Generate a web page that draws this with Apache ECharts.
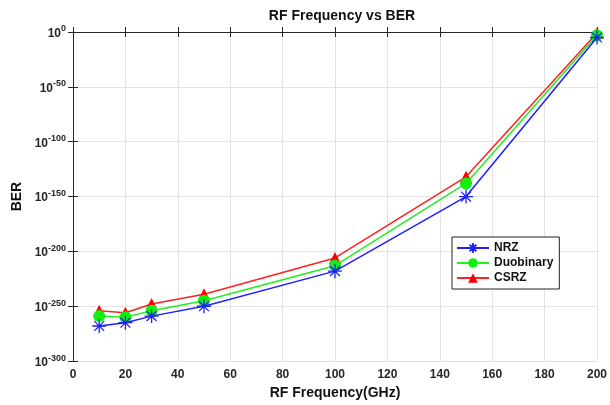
<!DOCTYPE html>
<html><head><meta charset="utf-8">
<script src="https://cdn.jsdelivr.net/npm/echarts@6/dist/echarts.min.js"></script>
<style>html,body{margin:0;padding:0;background:#fff}#c{width:610px;height:405px}</style>
</head><body><div id="c"></div>
<script>
// Data: RF frequency (GHz) and BER exponents (BER = 10^value)
const freq = [10, 20, 30, 50, 100, 150, 200];
const nrz = [-268, -265, -259, -250, -218, -150, -5];
const duobinary = [-259, -260, -254, -245, -213, -138, -3];
const csrz = [-254, -256, -248, -239, -206, -132, -1];
const yTicks = [0, -50, -100, -150, -200, -250, -300];

const pair = a => freq.map((f, i) => [f, a[i]]);
const font = 'Liberation Sans, Arial, sans-serif';
const asterisk = 'path://M0,5L10,5M5,0L5,10M1.5,1.5L8.5,8.5M8.5,1.5L1.5,8.5';

const chart = echarts.init(document.getElementById('c'));
const axisLine = {show: true, lineStyle: {color: '#262626', width: 1}};
chart.setOption({
  animation: false,
  title: {text: 'RF Frequency vs BER', left: 337, textAlign: 'center', top: 4,
    textStyle: {fontFamily: font, fontSize: 14, fontWeight: 'bold', color: '#111'}},
  grid: {left: 73, right: 10, top: 32, bottom: 43},
  legend: {
    orient: 'vertical', left: 452, top: 237, itemWidth: 32, itemHeight: 12, itemGap: 3,
    padding: [5, 6, 5, 4],
    borderColor: '#222', borderWidth: 1, backgroundColor: '#fff',
    textStyle: {fontFamily: font, fontSize: 12, fontWeight: 'bold', color: '#111'},
    data: ['NRZ', 'Duobinary', 'CSRZ']
  },
  xAxis: [{
    type: 'value', min: 0, max: 200, interval: 20, position: 'bottom',
    name: 'RF Frequency(GHz)', nameLocation: 'middle', nameGap: 24,
    nameTextStyle: {fontFamily: font, fontSize: 14, fontWeight: 'bold', color: '#111'},
    axisLine, axisTick: {show: true, inside: true, length: 5, lineStyle: {color: '#262626'}},
    axisLabel: {fontFamily: font, fontSize: 12, fontWeight: 'bold', color: '#262626', margin: 8},
    splitLine: {show: true, lineStyle: {color: '#e3e3e3'}}
  }, {
    type: 'value', min: 0, max: 200, interval: 20, position: 'top',
    axisLine, axisTick: {show: true, inside: true, length: 5, lineStyle: {color: '#262626'}},
    axisLabel: {show: false}, splitLine: {show: false}
  }],
  yAxis: [{
    type: 'value', min: -300, max: 0, interval: 50, position: 'left',
    name: 'BER', nameLocation: 'middle', nameGap: 46, nameRotate: 90,
    nameTextStyle: {fontFamily: font, fontSize: 14, fontWeight: 'bold', color: '#111'},
    axisLine, axisTick: {show: true, inside: true, length: 5, lineStyle: {color: '#262626'}},
    axisLabel: {
      margin: 7,
      formatter: v => '{b|10}{s|' + v + '}',
      rich: {
        b: {fontFamily: font, fontSize: 12, fontWeight: 'bold', color: '#262626', verticalAlign: 'bottom'},
        s: {fontFamily: font, fontSize: 9, fontWeight: 'bold', color: '#262626', verticalAlign: 'top', padding: [0, 0, 6, 0]}
      }
    },
    splitLine: {show: true, lineStyle: {color: '#e3e3e3'}}
  }, {
    type: 'value', min: -300, max: 0, interval: 50, position: 'right',
    axisLine, axisTick: {show: true, inside: true, length: 5, lineStyle: {color: '#262626'}},
    axisLabel: {show: false}, splitLine: {show: false}
  }],
  series: [{
    name: 'NRZ', type: 'line', data: pair(nrz), symbol: asterisk, symbolSize: 14,
    lineStyle: {color: '#1f1fff', width: 1.5},
    itemStyle: {color: 'rgba(0,0,0,0)', borderColor: '#1f1fff', borderWidth: 1.3},
    z: 3
  }, {
    name: 'Duobinary', type: 'line', data: pair(duobinary), symbol: 'circle', symbolSize: 12,
    lineStyle: {color: '#22ee22', width: 1.5}, itemStyle: {color: '#11ee11'}, z: 2
  }, {
    name: 'CSRZ', type: 'line', data: pair(csrz), symbol: 'triangle', symbolSize: 12,
    lineStyle: {color: '#ff2020', width: 1.5}, itemStyle: {color: '#ff0000'}, z: 1
  }]
});
</script></body></html>
